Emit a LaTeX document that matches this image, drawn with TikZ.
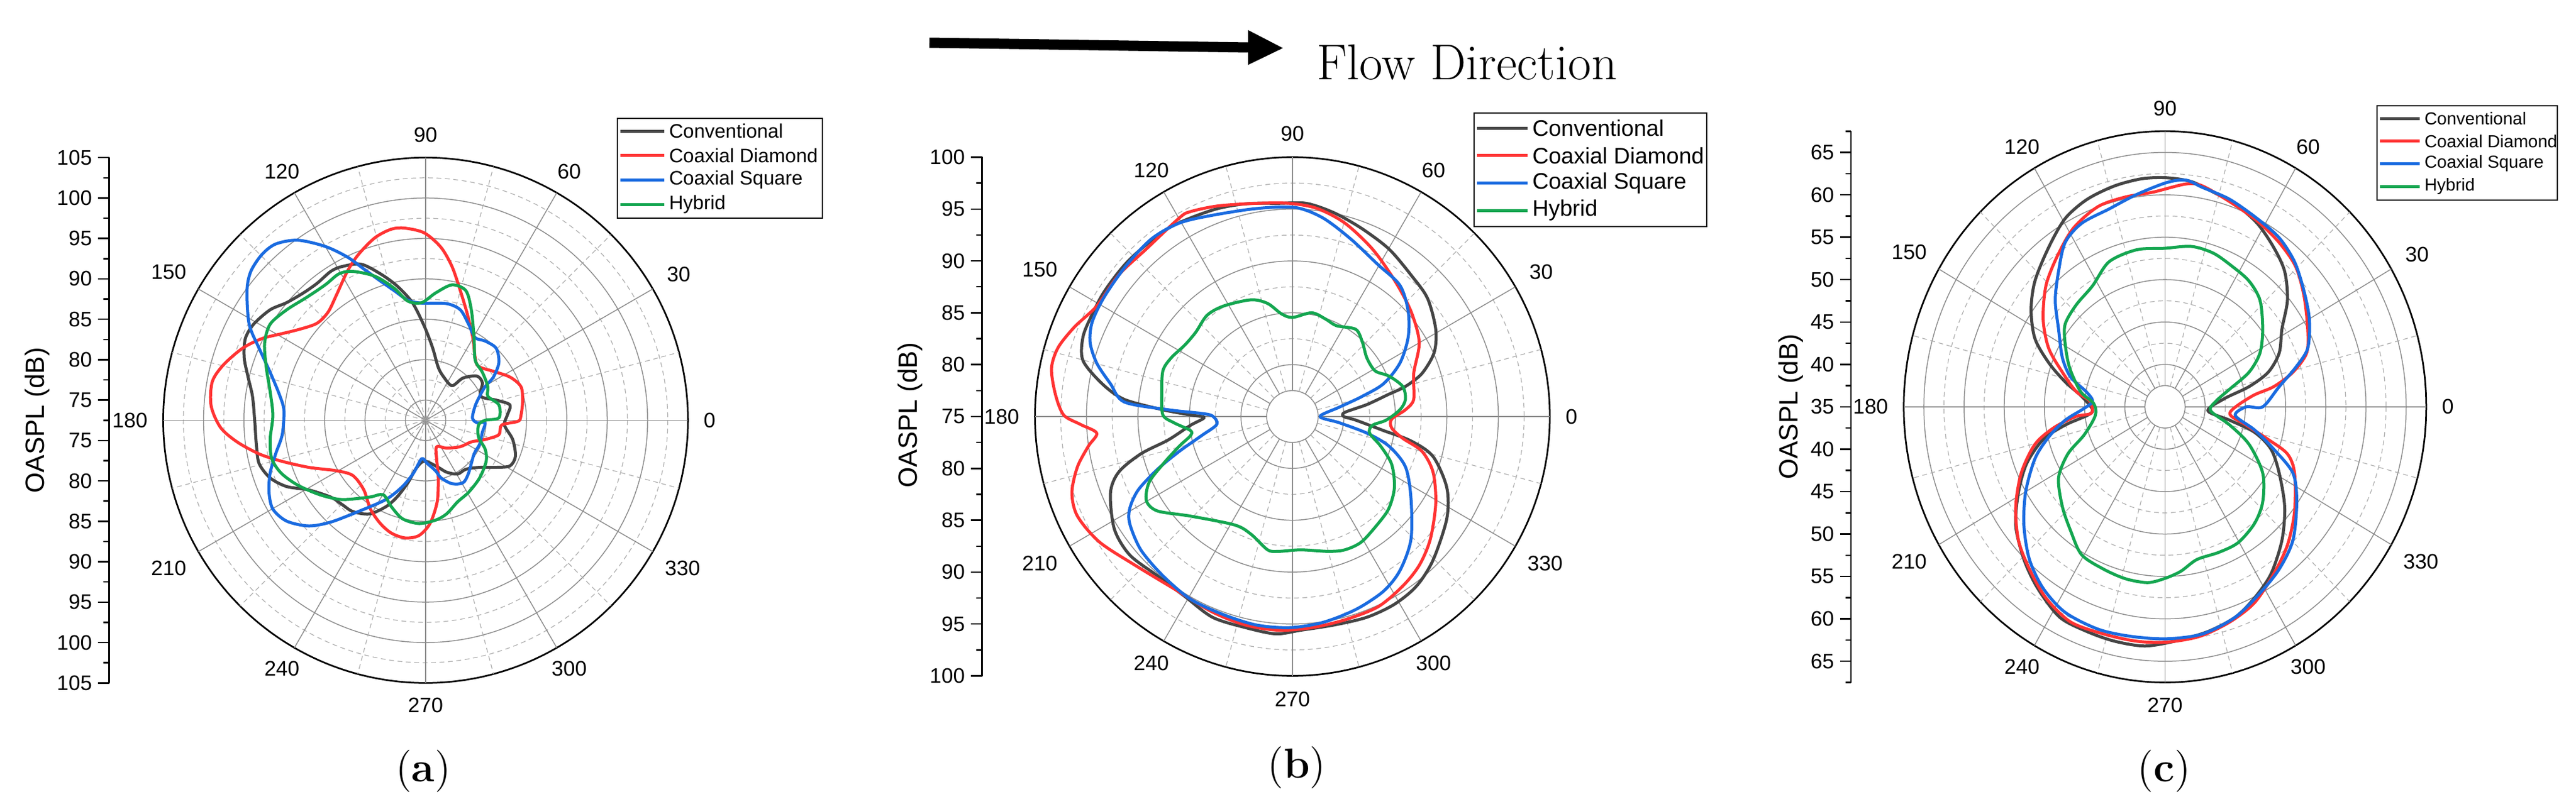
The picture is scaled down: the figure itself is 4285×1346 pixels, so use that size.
\documentclass[tikz,border=0pt]{standalone}
\usepackage{fontspec}
\newfontfamily\arial{Liberation Sans}
\definecolor{cconv}{HTML}{454545}
\definecolor{cdia}{HTML}{FF3333}
\definecolor{csq}{HTML}{1A6BE0}
\definecolor{chyb}{HTML}{14A650}
\definecolor{cgrid}{HTML}{8C8C8C}
\tikzset{
 gsolid/.style={cgrid,line width=0.3pt},
 gdot/.style={cgrid!70,line width=0.25pt,dash pattern=on 1.6pt off 1.2pt},
 gouter/.style={black,line width=0.55pt},
 curve/.style={line width=1.0pt,line join=round},
 conv/.style={curve,cconv},
 dia/.style={curve,cdia},
 sq/.style={curve,csq},
 hyb/.style={curve,chyb},
 anglab/.style={font=\arial\fontsize{7}{8}\selectfont,inner sep=1pt},
 ticklab/.style={font=\arial\fontsize{7}{8}\selectfont,anchor=east,inner sep=0pt},
 ylab/.style={font=\arial\fontsize{8.8}{10}\selectfont,rotate=90},
 leglab/.style={anchor=west,inner sep=0pt},
 panelcap/.style={font=\fontsize{14}{16}\selectfont},
}
% cx cy rx ry n parity spokestart
\newcommand\mygrid[7]{%
 \foreach \k in {1,...,#5}{%
  \pgfmathtruncatemacro\mypar{mod(\k+#6,2)}%
  \ifnum\k=1 \def\mysty{gsolid}\else\ifnum\mypar=0 \def\mysty{gsolid}\else\def\mysty{gdot}\fi\fi
  \ifnum\k=#5 \def\mysty{gouter}\fi
  \pgfmathsetmacro\myf{\k/#5}%
  \draw[\mysty] plot[domain=0:360,samples=121,smooth] ({#1+\myf*#3*cos(\x)},{#2+\myf*#4*sin(\x)});
 }%
 \foreach \a in {0,15,...,345}{%
  \pgfmathtruncatemacro\mym{mod(\a,30)}%
  \ifnum\mym=0 \def\mysty{gsolid}\else\def\mysty{gdot}\fi
  \draw[\mysty] ({#1+#7*#3/#5*cos(\a)},{#2-#7*#4/#5*sin(\a)}) -- ({#1+#3*cos(\a)},{#2-#4*sin(\a)});
 }%
 \foreach \a in {0,30,...,330}{%
  \pgfmathtruncatemacro\myb{mod(\a+180,360)}%
  \node[anglab,anchor=\myb] at ({#1+(#3+22)*cos(\a)},{#2-(#4+24)*sin(\a)}) {\a};
 }%
}
% cx cy ry n axisx v0 parity
\newcommand\myaxis[7]{%
 \draw[black,line width=0.5pt] (#5,{#2-#3}) -- (#5,{#2+#3});
 \foreach \k in {-#4,...,#4}{%
  \pgfmathtruncatemacro\myabs{abs(\k)}%
  \pgfmathtruncatemacro\mypar{mod(\myabs+#7,2)}%
  \pgfmathsetmacro\myy{#2-\k*#3/#4}%
  \ifnum\mypar=0
   \draw[black,line width=0.5pt] (#5,\myy) -- ({#5-20},\myy);
   \pgfmathtruncatemacro\myv{#6+2.5*\myabs}%
   \node[ticklab] at ({#5-30},\myy) {\myv};
  \else
   \draw[black,line width=0.5pt] (#5,\myy) -- ({#5-10},\myy);
  \fi
 }%
}
\begin{document}
\begin{tikzpicture}[x=0.2pt,y=-0.2pt]
\useasboundingbox (0,0) rectangle (4285,1346);
% ---------------- panel a ----------------
\begin{scope}[shift={(0,100)},xscale=0.917,yscale=0.799]
\mygrid{772}{750}{476}{547}{13}{1}{0}
\draw[conv] plot[smooth cycle,tension=0.5] coordinates {(620,430) (655,425) (690,445) (720,470) (748,505) (770,555) (785,600) (795,640) (805,660) (820,678) (840,662) (865,658) (875,672) (872,700) (900,708) (925,718) (920,740) (915,760) (930,790) (935,825) (925,845) (900,848) (870,848) (845,852) (830,862) (810,858) (795,848) (770,835) (755,850) (740,880) (720,910) (700,930) (670,945) (640,940) (620,925) (600,910) (560,895) (520,888) (490,870) (470,840) (465,800) (462,750) (458,700) (450,660) (443,620) (445,580) (460,550) (490,520) (520,505) (550,485) (575,465) (600,440)};
\draw[dia] plot[smooth cycle,tension=0.5] coordinates {(735,350) (770,360) (800,390) (820,430) (835,480) (848,530) (858,580) (862,620) (868,638) (895,648) (925,660) (945,680) (948,710) (945,740) (940,752) (910,760) (905,780) (880,790) (855,795) (835,805) (810,808) (792,805) (792,830) (795,870) (793,920) (780,965) (760,990) (735,995) (710,985) (690,965) (672,935) (660,895) (640,865) (610,855) (560,848) (510,835) (470,820) (430,795) (400,765) (383,720) (385,670) (405,635) (440,600) (475,580) (510,570) (545,560) (575,548) (595,525) (610,490) (630,440) (650,405) (680,370) (710,352)};
\draw[sq] plot[smooth cycle,tension=0.5] coordinates {(540,375) (590,388) (630,410) (660,435) (690,460) (715,480) (740,500) (765,506) (810,507) (835,520) (850,550) (862,578) (880,585) (900,600) (905,630) (895,660) (880,680) (870,700) (862,720) (857,745) (865,755) (880,755) (875,775) (870,800) (860,820) (850,860) (840,880) (820,882) (800,870) (790,855) (775,840) (765,830) (750,860) (730,888) (700,915) (650,940) (600,962) (560,970) (520,960) (495,935) (488,900) (490,860) (500,820) (512,780) (515,730) (508,700) (490,650) (470,600) (452,550) (448,480) (455,440) (475,405) (500,383)};
\draw[hyb] plot[smooth cycle,tension=0.5] coordinates {(640,440) (680,450) (715,475) (740,502) (765,505) (790,485) (820,468) (845,480) (855,520) (860,580) (862,625) (875,650) (885,680) (885,700) (905,718) (905,745) (880,750) (868,760) (868,785) (880,810) (882,835) (870,870) (850,900) (830,920) (810,945) (790,958) (760,965) (730,955) (710,930) (695,905) (670,910) (620,915) (580,905) (540,885) (510,860) (493,830) (490,790) (495,740) (490,690) (483,640) (480,590) (490,550) (520,520) (555,495) (590,468) (615,445)};
\myaxis{772}{750}{547}{13}{198}{72.5}{1}
\node[ylab] (ya) at (68,750) {OASPL (dB)};
\end{scope}
% ---------------- panel b ----------------
\begin{scope}[shift={(1430,0)},xscale=0.917,yscale=0.863]
\mygrid{785}{803}{467}{500}{10}{0}{1}
\draw[conv] plot[smooth cycle,tension=0.5] coordinates {(760,392) (810,392) (860,410) (910,440) (960,480) (1000,530) (1030,575) (1045,635) (1042,680) (1020,720) (990,745) (960,760) (920,780) (880,795) (878,803) (900,810) (950,830) (1000,850) (1040,880) (1065,940) (1065,1000) (1040,1080) (1010,1130) (970,1165) (920,1190) (860,1205) (800,1215) (755,1222) (700,1210) (640,1190) (590,1150) (540,1110) (490,1070) (462,1020) (455,950) (470,910) (510,875) (560,848) (600,820) (625,805) (600,800) (550,790) (480,770) (440,740) (405,695) (405,650) (420,610) (445,560) (490,500) (560,440) (640,405) (700,393)};
\draw[dia] plot[smooth cycle,tension=0.5] coordinates {(600,408) (650,397) (720,392) (780,392) (830,402) (880,430) (930,480) (970,540) (1000,600) (1015,660) (1005,720) (1005,770) (990,790) (965,808) (965,825) (985,845) (1020,870) (1040,910) (1045,970) (1035,1040) (1015,1090) (985,1130) (940,1170) (880,1195) (820,1210) (760,1215) (700,1205) (640,1180) (570,1135) (500,1090) (435,1045) (395,995) (385,950) (395,900) (415,860) (430,835) (400,818) (370,800) (355,760) (348,710) (360,670) (390,630) (430,590) (470,530) (520,480) (580,420)};
\draw[sq] plot[smooth cycle,tension=0.5] coordinates {(640,415) (720,402) (790,400) (840,420) (890,460) (940,510) (980,550) (995,600) (995,650) (980,700) (950,740) (910,765) (870,785) (835,803) (870,815) (920,835) (960,860) (990,900) (1000,960) (1000,1040) (980,1100) (950,1140) (900,1175) (840,1200) (780,1210) (720,1205) (660,1185) (600,1155) (550,1110) (510,1060) (490,1010) (490,980) (505,945) (540,905) (580,870) (620,840) (648,818) (640,802) (620,797) (560,790) (480,775) (455,740) (430,700) (418,660) (422,620) (445,570) (485,510) (530,460) (580,430)};
\draw[hyb] plot[smooth cycle,tension=0.5] coordinates {(710,578) (740,585) (765,605) (785,612) (820,603) (845,615) (865,628) (900,635) (912,660) (920,690) (935,715) (960,725) (985,745) (990,770) (980,790) (955,810) (930,820) (925,835) (945,860) (965,895) (970,940) (960,980) (940,1010) (910,1045) (880,1060) (850,1063) (800,1060) (760,1063) (740,1060) (710,1030) (680,1012) (600,995) (540,985) (520,965) (525,930) (550,895) (580,860) (600,840) (600,830) (570,815) (550,800) (548,760) (550,715) (565,690) (590,665) (610,640) (630,608) (660,590)};
\myaxis{785}{803}{500}{10}{222}{75}{0}
\node[ylab] (yb) at (92,800) {OASPL (dB)};
\end{scope}
% ---------------- panel c ----------------
\begin{scope}[shift={(2860,100)},xscale=0.913,yscale=0.799]
\mygrid{812}{722}{476}{574}{13}{0}{1}
\draw[conv] plot[smooth cycle,tension=0.5] coordinates {(815,245) (860,253) (900,275) (940,300) (980,340) (1010,390) (1030,440) (1035,500) (1025,560) (1020,610) (1000,650) (965,680) (920,705) (890,730) (930,750) (975,775) (1005,810) (1020,860) (1030,930) (1025,1000) (1005,1070) (975,1120) (940,1160) (890,1190) (830,1210) (775,1220) (720,1210) (670,1190) (620,1160) (580,1100) (555,1040) (540,970) (545,900) (560,840) (590,790) (630,760) (670,740) (680,728) (660,700) (630,670) (600,630) (575,580) (568,520) (575,460) (600,390) (630,330) (670,290) (720,262) (770,247)};
\draw[dia] plot[smooth cycle,tension=0.5] coordinates {(850,258) (880,262) (930,295) (980,335) (1020,380) (1050,430) (1065,490) (1072,560) (1070,610) (1045,650) (1010,680) (970,700) (930,735) (960,760) (1000,790) (1035,820) (1048,860) (1048,940) (1035,1010) (1010,1070) (975,1130) (930,1170) (875,1200) (815,1212) (760,1210) (700,1195) (640,1170) (595,1120) (565,1060) (545,1000) (540,930) (550,860) (575,800) (610,765) (650,742) (678,735) (675,710) (650,690) (625,650) (600,600) (590,540) (595,470) (615,410) (645,350) (690,305) (740,285) (790,275)};
\draw[sq] plot[smooth cycle,tension=0.5] coordinates {(815,255) (850,250) (880,265) (930,290) (980,330) (1020,370) (1048,420) (1065,480) (1075,540) (1072,600) (1050,640) (1020,680) (990,722) (960,722) (940,740) (975,770) (1010,810) (1045,860) (1052,920) (1045,1000) (1020,1060) (985,1110) (940,1160) (880,1195) (815,1205) (750,1200) (690,1185) (630,1150) (590,1100) (565,1040) (555,970) (558,900) (575,830) (600,785) (630,750) (665,725) (680,710) (668,690) (640,660) (625,620) (618,560) (612,500) (618,440) (630,380) (660,340) (710,310) (760,280)};
\draw[hyb] plot[smooth cycle,tension=0.5] coordinates {(760,395) (810,392) (860,388) (900,402) (935,430) (965,460) (985,500) (990,560) (985,610) (965,650) (930,685) (905,710) (895,730) (930,760) (965,800) (990,860) (990,920) (975,965) (945,1005) (910,1025) (870,1040) (840,1065) (810,1080) (780,1088) (740,1080) (700,1060) (660,1030) (640,980) (625,930) (618,870) (635,820) (665,780) (685,740) (682,715) (658,690) (638,640) (630,590) (630,550) (650,510) (680,470) (710,420)};
\myaxis{812}{722}{574}{13}{240}{35}{0}
\node[ylab] (yc) at (130,722) {OASPL (dB)};
\end{scope}
% ---------------- legends ----------------
\foreach \lx/\ly/\rx/\ry/\ll/\fs/\y/\dy in {1027/197/1368/363/73/6.5/218/40.7, 2452/188/2839/377/84/7.5/213/45.7, 3954/176/4254/333/66/5.8/197/37.7}{
 \draw[black,line width=0.5pt] (\lx,\ly) rectangle (\rx,\ry);
 \foreach \st/\tx [count=\i from 0] in {conv/Conventional,dia/Coaxial Diamond,sq/Coaxial Square,hyb/Hybrid}{
  \pgfmathsetmacro\yy{\y+\i*\dy}
  \draw[\st] ({\lx+5},\yy) -- ({\lx+5+\ll},\yy);
  \node[leglab,font=\arial\fontsize{\fs}{\fs}\selectfont] at ({\lx+12+\ll},\yy) {\tx};
 }
}
% ---------------- flow arrow ----------------
\coordinate (fa) at (1546,71);
\coordinate (fb) at (2076,79);
\coordinate (ft) at (2134,80);
\draw[line width=3.4pt,black] (fa) -- (fb);
\fill[black] (2076,50) -- (ft) -- (2076,108) -- cycle;
\node[font=\fontsize{16.8}{20}\selectfont,anchor=west,inner sep=0pt] (flow) at (2189,104) {Flow Direction};
% ---------------- captions ----------------
\node[panelcap] (ca) at (704,1283) {(\textbf{a})};
\node[panelcap] (cb) at (2157,1277) {(\textbf{b})};
\node[panelcap] (cc) at (3600,1283) {(\textbf{c})};
\end{tikzpicture}
\end{document}
